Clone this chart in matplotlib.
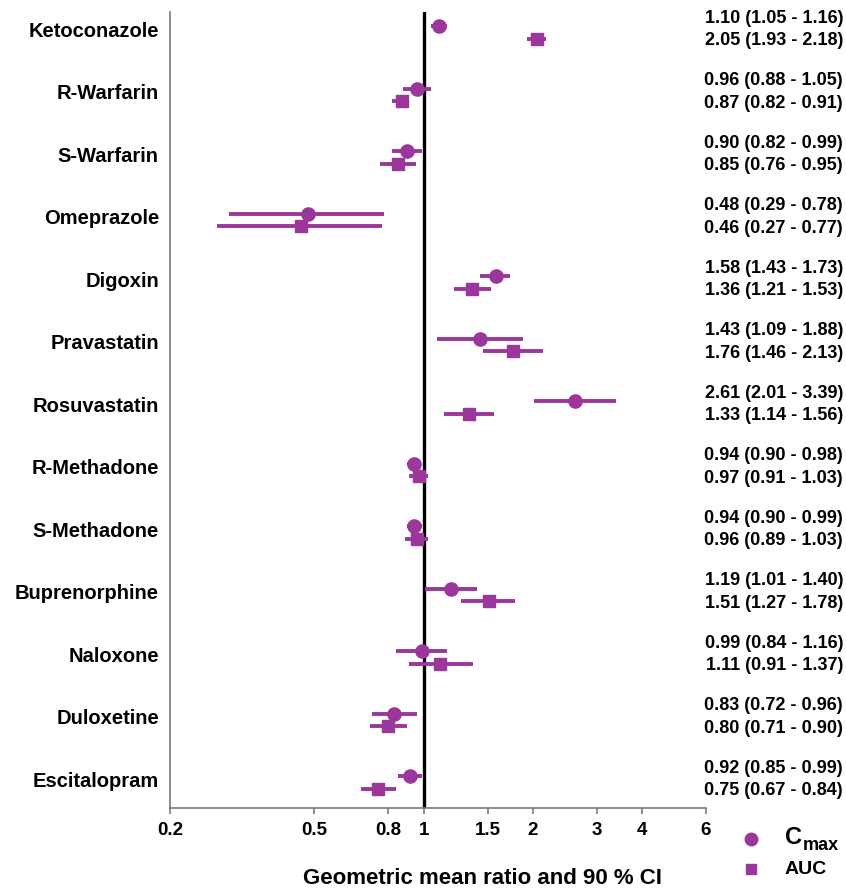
import numpy as np
import matplotlib.pyplot as plt
import matplotlib.transforms as mtransforms

plt.rcParams['font.family'] = ['Liberation Sans', 'DejaVu Sans']
plt.rcParams['font.weight'] = 'bold'

drugs = ['Ketoconazole', 'R-Warfarin', 'S-Warfarin', 'Omeprazole', 'Digoxin',
         'Pravastatin', 'Rosuvastatin', 'R-Methadone', 'S-Methadone',
         'Buprenorphine', 'Naloxone', 'Duloxetine', 'Escitalopram']

cmax = [1.10, 0.96, 0.90, 0.48, 1.58, 1.43, 2.61, 0.94, 0.94, 1.19, 0.99, 0.83, 0.92]
cmax_lo = [1.05, 0.88, 0.82, 0.29, 1.43, 1.09, 2.01, 0.90, 0.90, 1.01, 0.84, 0.72, 0.85]
cmax_hi = [1.16, 1.05, 0.99, 0.78, 1.73, 1.88, 3.39, 0.98, 0.99, 1.40, 1.16, 0.96, 0.99]

auc = [2.05, 0.87, 0.85, 0.46, 1.36, 1.76, 1.33, 0.97, 0.96, 1.51, 1.11, 0.80, 0.75]
auc_lo = [1.93, 0.82, 0.76, 0.27, 1.21, 1.46, 1.14, 0.91, 0.89, 1.27, 0.91, 0.71, 0.67]
auc_hi = [2.18, 0.91, 0.95, 0.77, 1.53, 2.13, 1.56, 1.03, 1.03, 1.78, 1.37, 0.90, 0.84]

xticks = [0.2, 0.5, 0.8, 1, 1.5, 2, 3, 4, 6]
xtick_labels = ['0.2', '0.5', '0.8', '1', '1.5', '2', '3', '4', '6']

purple = '#9b369b'
gray = '#7a7a7a'

cmax = np.array(cmax)
auc = np.array(auc)
rows = np.arange(len(drugs))

fig = plt.figure(figsize=(8.46, 8.90), dpi=100)
ax = fig.add_axes([170/846, 1-808/890, (706-170)/846, (808-12)/890])

ax.axvline(1, color='black', lw=2.4, zorder=1)

xerr_c = [cmax - np.array(cmax_lo), np.array(cmax_hi) - cmax]
xerr_a = [auc - np.array(auc_lo), np.array(auc_hi) - auc]
ax.errorbar(cmax, rows - 0.1, xerr=xerr_c, fmt='o', color=purple, ms=9.5,
            elinewidth=2.8, capsize=0, zorder=3)
ax.errorbar(auc, rows + 0.1, xerr=xerr_a, fmt='s', color=purple, ms=8.3,
            elinewidth=2.8, capsize=0, zorder=3)

ax.set_xscale('log')
ax.set_xlim(0.2, 6)
ax.set_ylim(12.41, -0.328)
ax.set_xticks(xticks)
ax.set_xticklabels(xtick_labels, fontsize=13.5, fontweight='bold')
ax.xaxis.set_minor_locator(plt.NullLocator())
ax.tick_params(axis='x', direction='out', length=4, width=1.2, color=gray, pad=6)

ax.set_yticks(rows - 0.05)
ax.set_yticklabels(drugs, fontsize=14.5, fontweight='bold')
ax.tick_params(axis='y', length=0, pad=8)

for s in ['top', 'right']:
    ax.spines[s].set_visible(False)
for s in ['left', 'bottom']:
    ax.spines[s].set_color(gray)
    ax.spines[s].set_linewidth(1.2)

# value annotations on the right
trans = mtransforms.blended_transform_factory(fig.transFigure, ax.transData)
for i in rows:
    t1 = f'{cmax[i]:.2f} ({cmax_lo[i]:.2f} - {cmax_hi[i]:.2f})'
    t2 = f'{auc[i]:.2f} ({auc_lo[i]:.2f} - {auc_hi[i]:.2f})'
    ax.text(843/846, i - 0.23, t1, transform=trans, ha='right', va='center',
            fontsize=13, fontweight='bold', clip_on=False)
    ax.text(843/846, i + 0.13, t2, transform=trans, ha='right', va='center',
            fontsize=13, fontweight='bold', clip_on=False)

# x label
fig.text(482/846, 1-878/890, 'Geometric mean ratio and 90 % CI', ha='center',
         va='center', fontsize=16, fontweight='bold')

# legend
fig.add_artist(plt.Line2D([751/846], [1-839/890], marker='o', color=purple,
                          ms=9, transform=fig.transFigure))
fig.add_artist(plt.Line2D([751/846], [1-869/890], marker='s', color=purple,
                          ms=7.5, transform=fig.transFigure))
fig.text(785/846, 1-837/890, 'C', ha='left', va='center', fontsize=17,
         fontweight='bold')
fig.text(803/846, 1-846/890, 'max', ha='left', va='center', fontsize=13,
         fontweight='bold')
fig.text(785/846, 1-869/890, 'AUC', ha='left', va='center', fontsize=14,
         fontweight='bold')

plt.savefig('out.png', dpi=100)
